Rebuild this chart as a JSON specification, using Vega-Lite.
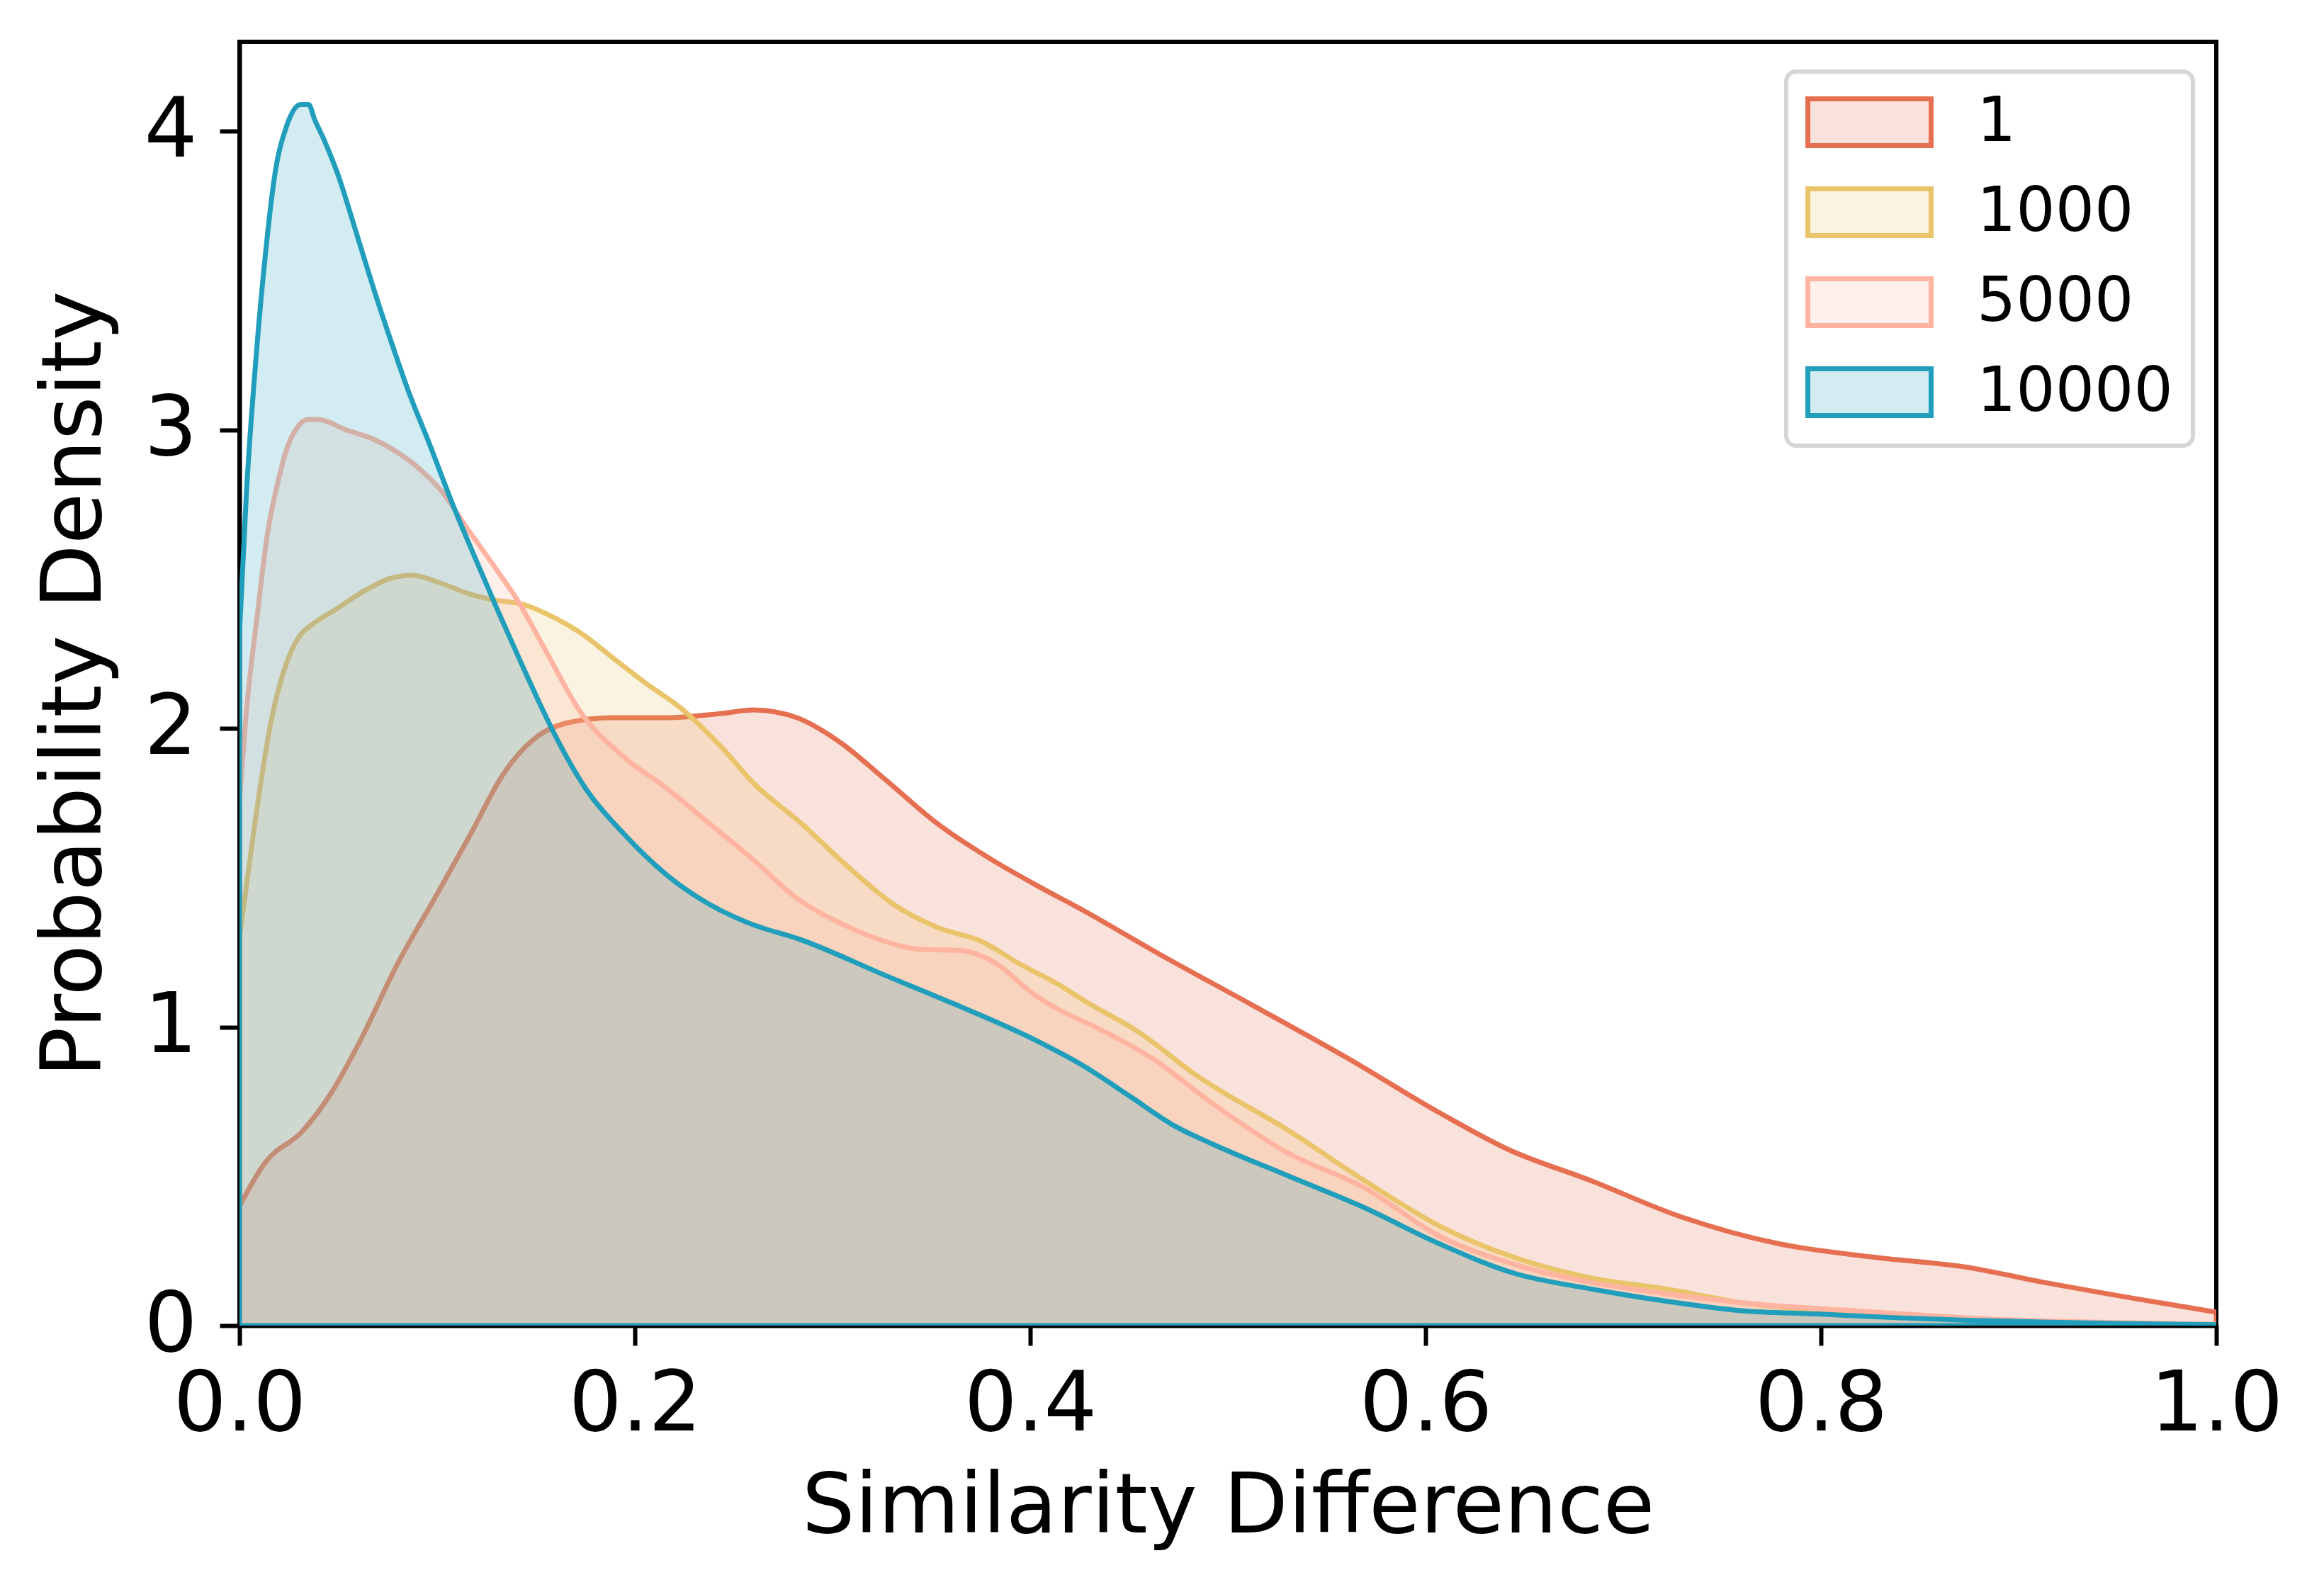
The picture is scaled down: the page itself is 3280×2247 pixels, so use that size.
{
  "$schema": "https://vega.github.io/schema/vega-lite/v6.json",
  "width": 2790,
  "height": 1812,
  "autosize": {"type": "none"},
  "padding": {"left": 338, "top": 59, "right": 152, "bottom": 376},
  "background": "white",
  "config": {
    "view": {"stroke": "black", "strokeWidth": 6},
    "axis": {
      "labelFont": "DejaVu Sans", "labelFontSize": 118, "labelColor": "black", "labelLimit": 1000,
      "titleFont": "DejaVu Sans", "titleFontSize": 118, "titleFontWeight": "normal", "titleColor": "black",
      "tickSize": 28, "tickWidth": 6, "tickColor": "black",
      "domainColor": "black", "domainWidth": 6,
      "grid": false, "zindex": 1, "labelFlush": false, "labelOverlap": false
    },
    "axisX": {"labelPadding": 26, "titlePadding": 27},
    "axisY": {"labelPadding": 32, "titlePadding": 36},
    "legend": {
      "orient": "none", "legendX": 2183, "legendY": 42,
      "padding": 28, "fillColor": "white", "strokeColor": "#D6D6D6", "cornerRadius": 14,
      "symbolType": "M-2.636,-1H2.636V1H-2.636Z", "symbolSize": 4356, "symbolStrokeWidth": 7, "symbolOffset": 46,
      "labelFont": "DejaVu Sans", "labelFontSize": 87, "labelColor": "black", "labelOffset": 108, "labelLimit": 1000,
      "labelBaseline": "middle", "rowPadding": 32
    }
  },
  "data": {"values": [
    {"steps": "1", "x": 0.0, "density": 0.40},
    {"steps": "1", "x": 0.013, "density": 0.546},
    {"steps": "1", "x": 0.032, "density": 0.652},
    {"steps": "1", "x": 0.0458, "density": 0.773},
    {"steps": "1", "x": 0.0623, "density": 0.97},
    {"steps": "1", "x": 0.0788, "density": 1.197},
    {"steps": "1", "x": 0.1007, "density": 1.454},
    {"steps": "1", "x": 0.1172, "density": 1.65},
    {"steps": "1", "x": 0.1337, "density": 1.85},
    {"steps": "1", "x": 0.150, "density": 1.97},
    {"steps": "1", "x": 0.1666, "density": 2.02},
    {"steps": "1", "x": 0.1886, "density": 2.036},
    {"steps": "1", "x": 0.216, "density": 2.036},
    {"steps": "1", "x": 0.2435, "density": 2.05},
    {"steps": "1", "x": 0.26, "density": 2.062},
    {"steps": "1", "x": 0.282, "density": 2.036},
    {"steps": "1", "x": 0.304, "density": 1.953},
    {"steps": "1", "x": 0.326, "density": 1.833},
    {"steps": "1", "x": 0.3533, "density": 1.68},
    {"steps": "1", "x": 0.3807, "density": 1.56},
    {"steps": "1", "x": 0.4026, "density": 1.477},
    {"steps": "1", "x": 0.427, "density": 1.39},
    {"steps": "1", "x": 0.4657, "density": 1.243},
    {"steps": "1", "x": 0.5117, "density": 1.076},
    {"steps": "1", "x": 0.561, "density": 0.894},
    {"steps": "1", "x": 0.607, "density": 0.713},
    {"steps": "1", "x": 0.6415, "density": 0.591},
    {"steps": "1", "x": 0.6835, "density": 0.486},
    {"steps": "1", "x": 0.729, "density": 0.365},
    {"steps": "1", "x": 0.7788, "density": 0.274},
    {"steps": "1", "x": 0.8285, "density": 0.228},
    {"steps": "1", "x": 0.8743, "density": 0.195},
    {"steps": "1", "x": 0.9125, "density": 0.145},
    {"steps": "1", "x": 0.9505, "density": 0.10},
    {"steps": "1", "x": 1.0, "density": 0.045},

    {"steps": "1000", "x": 0.0, "density": 1.30},
    {"steps": "1000", "x": 0.0074, "density": 1.665},
    {"steps": "1000", "x": 0.0157, "density": 2.014},
    {"steps": "1000", "x": 0.025, "density": 2.24},
    {"steps": "1000", "x": 0.030, "density": 2.306},
    {"steps": "1000", "x": 0.0365, "density": 2.347},
    {"steps": "1000", "x": 0.049, "density": 2.40},
    {"steps": "1000", "x": 0.0637, "density": 2.463},
    {"steps": "1000", "x": 0.0765, "density": 2.503},
    {"steps": "1000", "x": 0.0877, "density": 2.513},
    {"steps": "1000", "x": 0.1005, "density": 2.49},
    {"steps": "1000", "x": 0.1166, "density": 2.45},
    {"steps": "1000", "x": 0.1294, "density": 2.43},
    {"steps": "1000", "x": 0.1438, "density": 2.415},
    {"steps": "1000", "x": 0.1566, "density": 2.38},
    {"steps": "1000", "x": 0.1726, "density": 2.32},
    {"steps": "1000", "x": 0.1886, "density": 2.238},
    {"steps": "1000", "x": 0.2046, "density": 2.156},
    {"steps": "1000", "x": 0.224, "density": 2.064},
    {"steps": "1000", "x": 0.2435, "density": 1.94},
    {"steps": "1000", "x": 0.260, "density": 1.817},
    {"steps": "1000", "x": 0.2846, "density": 1.68},
    {"steps": "1000", "x": 0.3066, "density": 1.544},
    {"steps": "1000", "x": 0.3313, "density": 1.409},
    {"steps": "1000", "x": 0.3533, "density": 1.333},
    {"steps": "1000", "x": 0.375, "density": 1.288},
    {"steps": "1000", "x": 0.3945, "density": 1.212},
    {"steps": "1000", "x": 0.416, "density": 1.136},
    {"steps": "1000", "x": 0.4269, "density": 1.09},
    {"steps": "1000", "x": 0.4544, "density": 0.985},
    {"steps": "1000", "x": 0.485, "density": 0.834},
    {"steps": "1000", "x": 0.531, "density": 0.652},
    {"steps": "1000", "x": 0.569, "density": 0.486},
    {"steps": "1000", "x": 0.607, "density": 0.334},
    {"steps": "1000", "x": 0.645, "density": 0.228},
    {"steps": "1000", "x": 0.6835, "density": 0.16},
    {"steps": "1000", "x": 0.7216, "density": 0.123},
    {"steps": "1000", "x": 0.76, "density": 0.077},
    {"steps": "1000", "x": 0.798, "density": 0.05},
    {"steps": "1000", "x": 0.836, "density": 0.033},
    {"steps": "1000", "x": 0.874, "density": 0.02},
    {"steps": "1000", "x": 0.93, "density": 0.01},
    {"steps": "1000", "x": 1.0, "density": 0.004},

    {"steps": "5000", "x": 0.0, "density": 1.75},
    {"steps": "5000", "x": 0.0036, "density": 2.064},
    {"steps": "5000", "x": 0.0092, "density": 2.39},
    {"steps": "5000", "x": 0.014, "density": 2.646},
    {"steps": "5000", "x": 0.0196, "density": 2.83},
    {"steps": "5000", "x": 0.0244, "density": 2.946},
    {"steps": "5000", "x": 0.0292, "density": 3.008},
    {"steps": "5000", "x": 0.0348, "density": 3.035},
    {"steps": "5000", "x": 0.0396, "density": 3.035},
    {"steps": "5000", "x": 0.054, "density": 3.00},
    {"steps": "5000", "x": 0.0685, "density": 2.967},
    {"steps": "5000", "x": 0.0797, "density": 2.926},
    {"steps": "5000", "x": 0.091, "density": 2.87},
    {"steps": "5000", "x": 0.102, "density": 2.797},
    {"steps": "5000", "x": 0.1148, "density": 2.674},
    {"steps": "5000", "x": 0.1294, "density": 2.538},
    {"steps": "5000", "x": 0.142, "density": 2.415},
    {"steps": "5000", "x": 0.150, "density": 2.32},
    {"steps": "5000", "x": 0.1566, "density": 2.24},
    {"steps": "5000", "x": 0.172, "density": 2.06},
    {"steps": "5000", "x": 0.194, "density": 1.907},
    {"steps": "5000", "x": 0.216, "density": 1.80},
    {"steps": "5000", "x": 0.238, "density": 1.68},
    {"steps": "5000", "x": 0.260, "density": 1.56},
    {"steps": "5000", "x": 0.282, "density": 1.431},
    {"steps": "5000", "x": 0.304, "density": 1.348},
    {"steps": "5000", "x": 0.326, "density": 1.288},
    {"steps": "5000", "x": 0.345, "density": 1.26},
    {"steps": "5000", "x": 0.364, "density": 1.257},
    {"steps": "5000", "x": 0.381, "density": 1.22},
    {"steps": "5000", "x": 0.4026, "density": 1.106},
    {"steps": "5000", "x": 0.416, "density": 1.053},
    {"steps": "5000", "x": 0.433, "density": 1.0},
    {"steps": "5000", "x": 0.462, "density": 0.894},
    {"steps": "5000", "x": 0.4926, "density": 0.742},
    {"steps": "5000", "x": 0.531, "density": 0.576},
    {"steps": "5000", "x": 0.569, "density": 0.462},
    {"steps": "5000", "x": 0.607, "density": 0.30},
    {"steps": "5000", "x": 0.645, "density": 0.205},
    {"steps": "5000", "x": 0.6835, "density": 0.145},
    {"steps": "5000", "x": 0.7216, "density": 0.107},
    {"steps": "5000", "x": 0.771, "density": 0.07},
    {"steps": "5000", "x": 0.817, "density": 0.05},
    {"steps": "5000", "x": 0.893, "density": 0.02},
    {"steps": "5000", "x": 0.95, "density": 0.01},
    {"steps": "5000", "x": 1.0, "density": 0.005},

    {"steps": "10000", "x": 0.0, "density": 2.32},
    {"steps": "10000", "x": 0.0036, "density": 2.80},
    {"steps": "10000", "x": 0.0084, "density": 3.245},
    {"steps": "10000", "x": 0.0133, "density": 3.60},
    {"steps": "10000", "x": 0.018, "density": 3.86},
    {"steps": "10000", "x": 0.0237, "density": 4.015},
    {"steps": "10000", "x": 0.031, "density": 4.09},
    {"steps": "10000", "x": 0.035, "density": 4.09},
    {"steps": "10000", "x": 0.038, "density": 4.04},
    {"steps": "10000", "x": 0.0429, "density": 3.97},
    {"steps": "10000", "x": 0.049, "density": 3.87},
    {"steps": "10000", "x": 0.0605, "density": 3.63},
    {"steps": "10000", "x": 0.0685, "density": 3.46},
    {"steps": "10000", "x": 0.0765, "density": 3.30},
    {"steps": "10000", "x": 0.086, "density": 3.12},
    {"steps": "10000", "x": 0.0957, "density": 2.96},
    {"steps": "10000", "x": 0.1085, "density": 2.74},
    {"steps": "10000", "x": 0.118, "density": 2.59},
    {"steps": "10000", "x": 0.131, "density": 2.39},
    {"steps": "10000", "x": 0.1438, "density": 2.20},
    {"steps": "10000", "x": 0.155, "density": 2.04},
    {"steps": "10000", "x": 0.161, "density": 1.96},
    {"steps": "10000", "x": 0.175, "density": 1.80},
    {"steps": "10000", "x": 0.194, "density": 1.65},
    {"steps": "10000", "x": 0.216, "density": 1.51},
    {"steps": "10000", "x": 0.238, "density": 1.41},
    {"steps": "10000", "x": 0.257, "density": 1.35},
    {"steps": "10000", "x": 0.285, "density": 1.29},
    {"steps": "10000", "x": 0.326, "density": 1.175},
    {"steps": "10000", "x": 0.362, "density": 1.076},
    {"steps": "10000", "x": 0.403, "density": 0.955},
    {"steps": "10000", "x": 0.427, "density": 0.87},
    {"steps": "10000", "x": 0.45, "density": 0.77},
    {"steps": "10000", "x": 0.4735, "density": 0.667},
    {"steps": "10000", "x": 0.4926, "density": 0.607},
    {"steps": "10000", "x": 0.531, "density": 0.50},
    {"steps": "10000", "x": 0.569, "density": 0.395},
    {"steps": "10000", "x": 0.607, "density": 0.274},
    {"steps": "10000", "x": 0.645, "density": 0.175},
    {"steps": "10000", "x": 0.6835, "density": 0.123},
    {"steps": "10000", "x": 0.7216, "density": 0.082},
    {"steps": "10000", "x": 0.76, "density": 0.05},
    {"steps": "10000", "x": 0.798, "density": 0.039},
    {"steps": "10000", "x": 0.836, "density": 0.027},
    {"steps": "10000", "x": 0.874, "density": 0.018},
    {"steps": "10000", "x": 0.912, "density": 0.012},
    {"steps": "10000", "x": 0.95, "density": 0.007},
    {"steps": "10000", "x": 1.0, "density": 0.003}
  ]},
  "mark": {"type": "area", "interpolate": "monotone", "fillOpacity": 0.2, "strokeOpacity": 1, "strokeWidth": 7, "clip": true},
  "encoding": {
    "x": {"field": "x", "type": "quantitative",
      "scale": {"domain": [0, 1], "nice": false, "zero": false},
      "axis": {"values": [0, 0.2, 0.4, 0.6, 0.8, 1.0], "format": ".1f", "title": "Similarity Difference"}},
    "y": {"field": "density", "type": "quantitative", "stack": null,
      "scale": {"domain": [0, 4.3], "nice": false},
      "axis": {"values": [0, 1, 2, 3, 4], "format": "d", "title": "Probability Density"}},
    "fill": {"field": "steps", "type": "nominal",
      "scale": {"domain": ["1", "1000", "5000", "10000"], "range": ["#E76F51", "#E9C46A", "#FFB4A2", "#219EBC"]},
      "legend": {"title": null, "encode": {"symbols": {"update": {"fillOpacity": {"value": 0.2}, "strokeOpacity": {"value": 1}, "strokeWidth": {"value": 7}}}, "legend": {"update": {"strokeWidth": {"value": 6}}}}}},
    "stroke": {"field": "steps", "type": "nominal",
      "scale": {"domain": ["1", "1000", "5000", "10000"], "range": ["#E76F51", "#E9C46A", "#FFB4A2", "#219EBC"]},
      "legend": {"title": null}}
  }
}
